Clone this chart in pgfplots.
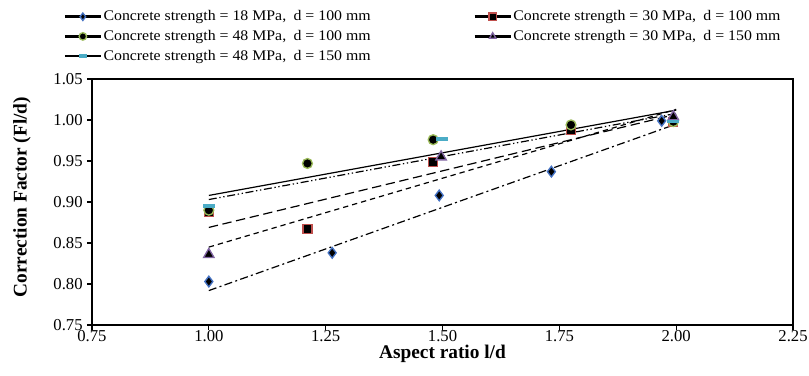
\documentclass[border=0pt]{standalone}
\usepackage{fontspec}
\setmainfont{Liberation Serif}
\newfontfamily\legfont{Liberation Serif}[FakeStretch=1.08]
\usepackage{pgfplots}
\pgfplotsset{compat=1.18}
\definecolor{cblue}{RGB}{68,114,196}
\definecolor{cred}{RGB}{192,80,77}
\definecolor{cgreen}{RGB}{155,187,89}
\definecolor{cpurple}{RGB}{128,100,162}
\definecolor{ccyan}{RGB}{75,172,198}
\begin{document}
\begin{tikzpicture}
\useasboundingbox (-69pt,-37.5pt) rectangle (537.75pt,243.75pt);
\begin{axis}[
  at={(0,0)}, anchor=south west,
  scale only axis, width=525.75pt, height=184.5pt,
  xmin=0.75, xmax=2.25, ymin=0.75, ymax=1.05,
  xtick={0.75,1.00,1.25,1.50,1.75,2.00,2.25},
  ytick={0.75,0.80,0.85,0.90,0.95,1.00,1.05},
  tick align=outside, tick pos=left, major tick length=3.5pt,
  axis line style={line width=1pt}, every tick/.style={line width=0.8pt, black},
  /pgf/number format/assume math mode=true,
  xticklabel style={yshift=3pt, /pgf/number format/.cd, fixed, fixed zerofill, precision=2},
  yticklabel style={/pgf/number format/.cd, fixed, fixed zerofill, precision=2},
  tick label style={font=\fontsize{12.5pt}{14pt}\selectfont},
  xlabel={\textbf{Aspect ratio l/d}},
  ylabel={\textbf{Correction Factor (Fl/d)}},
  label style={font=\fontsize{14.5pt}{16pt}\selectfont},
  xlabel style={at={(axis description cs:0.5,-0.117)}, anchor=center},
  ylabel style={at={(axis description cs:-0.0999,0.52)}, anchor=center},
  legend columns=2,
  legend cell align=left,
  legend style={at={(axis description cs:-0.041,1.287)}, anchor=north west, draw=none, fill=none,
    font=\legfont\fontsize{11pt}{13pt}\selectfont, row sep=2.6pt, inner sep=0pt,
    nodes={inner xsep=1pt, inner ysep=1.5pt},
    /tikz/every odd column/.append style={column sep=0pt},
    /tikz/every even column/.append style={column sep=76pt}},
  legend image code/.code={
    \draw[black, line width=2pt] (0pt,0pt) -- (27pt,0pt);
    \draw[mark repeat=2, mark phase=2, #1, line width=0.6pt, mark size=2.8pt] plot coordinates {(0pt,0pt)(13.5pt,0pt)(27pt,0pt)};
  },
]
% trend lines
\addplot[forget plot, black, line width=0.9pt, dash pattern=on 6pt off 2.5pt on 1.5pt off 2.5pt] coordinates {(1.0,0.792) (2.0,0.995)};
\addplot[forget plot, black, line width=0.9pt, dash pattern=on 7pt off 3.5pt] coordinates {(1.0,0.869) (2.0,1.007)};
\addplot[forget plot, black, line width=0.9pt] coordinates {(1.0,0.908) (2.0,1.012)};
\addplot[forget plot, black, line width=0.9pt, dash pattern=on 4pt off 3pt] coordinates {(1.0,0.845) (2.0,1.013)};
\addplot[forget plot, black, line width=0.9pt, dash pattern=on 6pt off 2pt on 1pt off 2pt on 1pt off 2pt] coordinates {(1.0,0.903) (2.0,1.008)};
% data
\addplot[only marks, mark=diamond*, mark size=4pt, mark options={fill=black, draw=cblue, line width=1pt}]
  coordinates {(1.000,0.803) (1.264,0.838) (1.493,0.908) (1.733,0.937) (1.969,0.999)};
\addlegendentry{Concrete strength = 18 MPa,\enspace d = 100 mm}
\addplot[only marks, mark=square*, mark size=3.3pt, mark options={fill=black, draw=cred, line width=1pt}]
  coordinates {(1.000,0.888) (1.211,0.867) (1.480,0.949) (1.775,0.988) (1.994,0.998)};
\addlegendentry{Concrete strength = 30 MPa,\enspace d = 100 mm}
\addplot[only marks, mark=*, mark size=3.7pt, mark options={fill=black, draw=cgreen, line width=1pt}]
  coordinates {(1.000,0.890) (1.211,0.947) (1.480,0.976) (1.775,0.994) (1.994,0.998)};
\addlegendentry{Concrete strength = 48 MPa,\enspace d = 100 mm}
\addplot[only marks, mark=triangle*, mark size=4.5pt, mark options={fill=black, draw=cpurple, line width=1pt}]
  coordinates {(1.000,0.836) (1.497,0.955) (1.994,1.004)};
\addlegendentry{Concrete strength = 30 MPa,\enspace d = 150 mm}
\addplot[only marks, mark=-, mark size=4.5pt, mark options={draw=ccyan, line width=2.5pt}]
  coordinates {(1.000,0.895) (1.498,0.977) (1.994,0.998)};
\addlegendentry{Concrete strength = 48 MPa,\enspace d = 150 mm}
\end{axis}
\end{tikzpicture}
\end{document}
